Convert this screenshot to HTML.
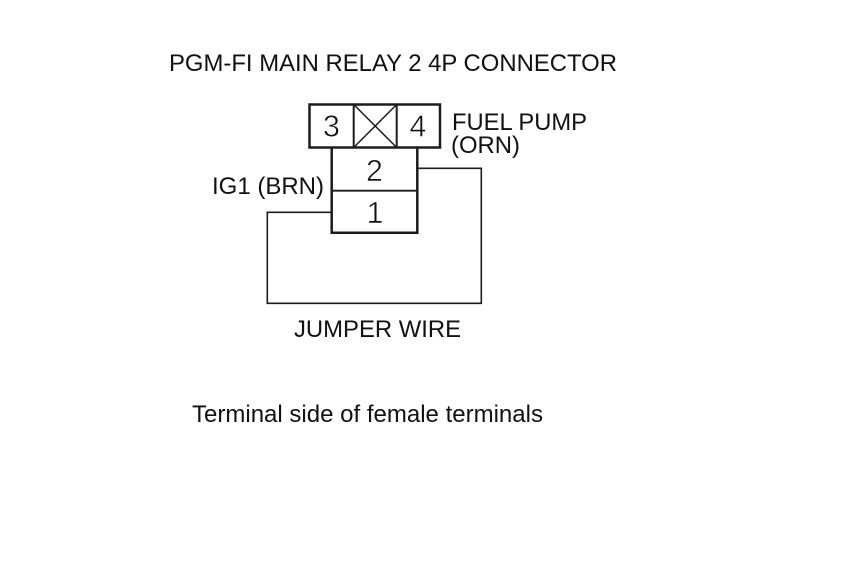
<!DOCTYPE html>
<html><head><meta charset="utf-8"><style>html,body{margin:0;padding:0;background:#fff}svg{display:block}text{font-family:"Liberation Sans",Arial,sans-serif;fill:#111}</style></head>
<body><svg width="860" height="580" viewBox="0 0 860 580" xmlns="http://www.w3.org/2000/svg">
<rect width="860" height="580" fill="#fff"/>
<g fill="none" stroke="#1c1c1c">
<rect x="309.5" y="104.5" width="130.5" height="43" stroke-width="2.5"/>
<path d="M353.7 104.5V147.5M396.7 104.5V147.5" stroke-width="2"/>
<path d="M353.7 104.5L396.7 147.5M396.7 104.5L353.7 147.5" stroke-width="1.5"/>
<path d="M331.7 147.5V232.7H417.3V147.5" stroke-width="2.5"/>
<path d="M331.7 190.7H417.3" stroke-width="1.8"/>
<path d="M417.3 168.3H481.3V303.3H267.3V212.3H331.7" stroke-width="1.6"/>
</g>
<text x="169" y="71" font-size="24" textLength="448" lengthAdjust="spacingAndGlyphs">PGM-FI MAIN RELAY 2 4P CONNECTOR</text>
<text x="452" y="130" font-size="24" textLength="135" lengthAdjust="spacingAndGlyphs">FUEL PUMP</text>
<text x="451" y="153" font-size="24" textLength="69" lengthAdjust="spacingAndGlyphs">(ORN)</text>
<text x="212" y="194" font-size="24" textLength="112" lengthAdjust="spacingAndGlyphs">IG1 (BRN)</text>
<text x="294" y="337" font-size="24" textLength="167" lengthAdjust="spacingAndGlyphs">JUMPER WIRE</text>
<text x="192" y="422" font-size="24" textLength="351" lengthAdjust="spacingAndGlyphs">Terminal side of female terminals</text>
<g text-anchor="middle" font-size="31" style="stroke:#fff;stroke-width:.6">
<text transform="translate(331.5 136.5) scale(.98 1)">3</text>
<text transform="translate(418 136.5) scale(.98 1)">4</text>
<text transform="translate(374.5 181) scale(.98 1)">2</text>
<text transform="translate(375 223) scale(.98 1)">1</text>
</g>
</svg></body></html>
